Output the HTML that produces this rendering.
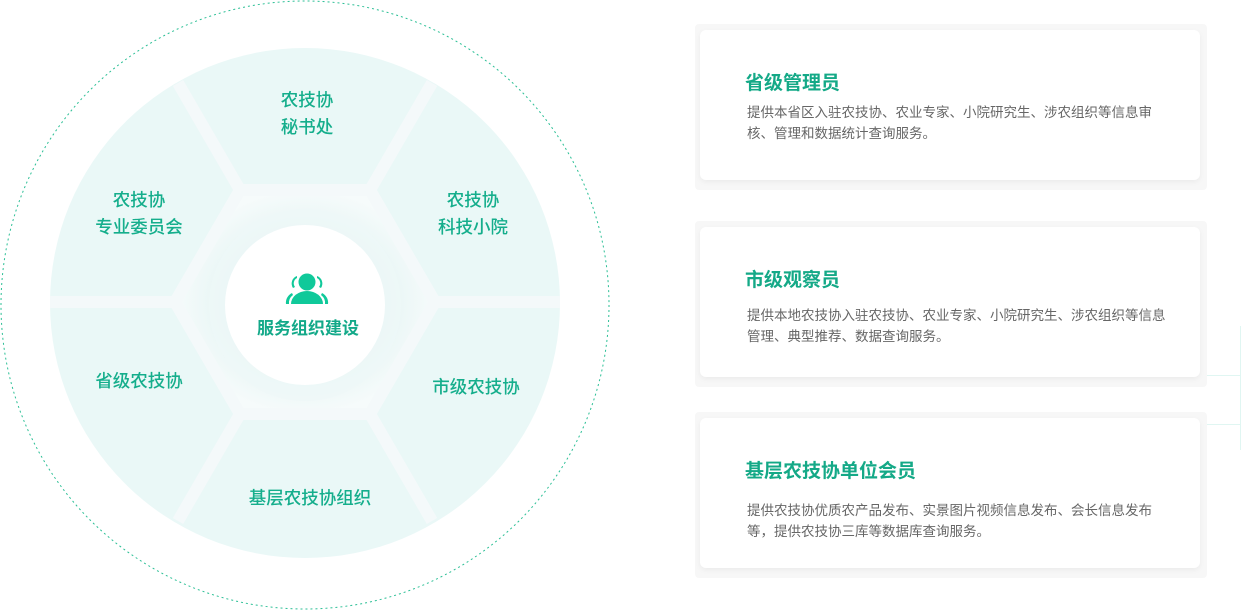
<!DOCTYPE html>
<html><head><meta charset="utf-8"><style>
body{margin:0;width:1245px;height:610px;background:#fff;position:relative;overflow:hidden;font-family:"Liberation Sans","Noto Sans CJK SC",sans-serif}
.lb{position:absolute;color:#15ae8c;font-size:17.5px;text-align:center;line-height:27px;transform:translateX(-50%);white-space:nowrap;font-weight:500}
.frame{position:absolute;left:695px;width:512px;background:#f7f7f7;border-radius:4px}
.card{position:absolute;left:700px;width:500px;height:150px;background:#fff;border-radius:6px;box-shadow:0 2px 6px rgba(0,0,0,0.05)}
.card h3{position:absolute;left:45px;margin:0;font-size:19px;color:#14a987;font-weight:bold;line-height:24px}
.card p{position:absolute;left:47px;margin:0;width:424px;font-size:13.5px;color:#666;line-height:21px}
</style></head><body>
<svg width="620" height="610" style="position:absolute;left:0;top:0">
<defs><radialGradient id="g" cx="0.5" cy="0.5" r="0.5"><stop offset="0.55" stop-color="#e4f4f3"/><stop offset="1" stop-color="#f6fbfb"/></radialGradient></defs>
<circle cx="305" cy="305" r="304" fill="none" stroke="#2bbf95" stroke-width="1" stroke-dasharray="2,3"/>
<circle cx="305" cy="303" r="255" fill="#eaf8f7"/>
<polygon points="175,302 240,190 370,190 435,302 370,414 240,414" fill="url(#g)" stroke="#f4f9fa" stroke-width="12" stroke-linejoin="miter"/>
<g stroke="#f4f9fa" stroke-width="12">
<line x1="175" y1="302" x2="50" y2="302"/><line x1="435" y1="302" x2="560" y2="302"/>
<line x1="240" y1="190" x2="178" y2="83"/><line x1="370" y1="190" x2="432" y2="83"/>
<line x1="240" y1="414" x2="178" y2="521"/><line x1="370" y1="414" x2="432" y2="521"/>
</g>
<circle cx="305" cy="305" r="96" fill="#eef8f8" opacity="0.7"/>
<circle cx="305" cy="305" r="80" fill="#fff"/>
<g fill="#10c99a">
<circle cx="307" cy="282" r="8.5"/>
<path d="M291 304 a16 13 0 0 1 32 0 z"/>
<path d="M297 276 a8 8 0 0 0 -4 12 l2 -1 a6 6 0 0 1 2 -9z"/>
<path d="M317 276 a8 8 0 0 1 4 12 l-2 -1 a6 6 0 0 0 -2 -9z"/>
<path d="M289 304 l-3 0 a12 11 0 0 1 6 -11 l1 2 a10 10 0 0 0 -4 9z"/>
<path d="M325 304 l3 0 a12 11 0 0 0 -6 -11 l-1 2 a10 10 0 0 1 4 9z"/>
</g>
<text x="308" y="334" text-anchor="middle" font-size="17" font-weight="bold" fill="#13a989" font-family="Liberation Sans, Noto Sans CJK SC, sans-serif">服务组织建设</text>
</svg>
<div class="lb" style="left:307px;top:87px">农技协<br>秘书处</div>
<div class="lb" style="left:139px;top:187px">农技协<br>专业委员会</div>
<div class="lb" style="left:473px;top:187px">农技协<br>科技小院</div>
<div class="lb" style="left:139px;top:368px">省级农技协</div>
<div class="lb" style="left:476px;top:374px">市级农技协</div>
<div class="lb" style="left:310px;top:485px">基层农技协组织</div>
<div class="frame" style="top:24px;height:166px"></div>
<div class="frame" style="top:221px;height:166px"></div>
<div class="frame" style="top:412px;height:166px"></div>
<div style="position:absolute;left:1207px;top:375px;width:33px;height:1px;background:#e0f6f2"></div>
<div style="position:absolute;left:1207px;top:424px;width:33px;height:1px;background:#e0f6f2"></div>
<div style="position:absolute;left:1240px;top:326px;width:1px;height:124px;background:#e0f6f2"></div>
<div class="card" style="top:30px"><h3 style="top:42px">省级管理员</h3><p style="top:72px">提供本省区入驻农技协、农业专家、小院研究生、涉农组织等信息审核、管理和数据统计查询服务。</p></div>
<div class="card" style="top:227px"><h3 style="top:42px">市级观察员</h3><p style="top:78px">提供本地农技协入驻农技协、农业专家、小院研究生、涉农组织等信息管理、典型推荐、数据查询服务。</p></div>
<div class="card" style="top:418px"><h3 style="top:42px">基层农技协单位会员</h3><p style="top:82px">提供农技协优质农产品发布、实景图片视频信息发布、会长信息发布等，提供农技协三库等数据库查询服务。</p></div>
</body></html>
